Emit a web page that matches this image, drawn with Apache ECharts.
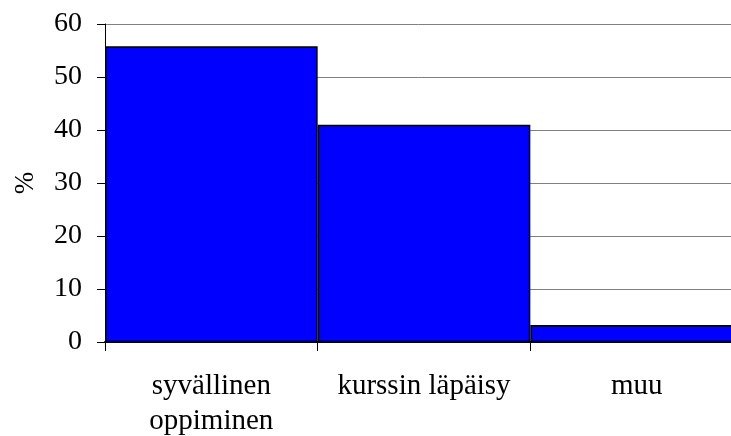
<!DOCTYPE html>
<html><head><meta charset="utf-8">
<script src="https://cdn.jsdelivr.net/npm/echarts@6/dist/echarts.min.js"></script>
<style>html,body{margin:0;padding:0;background:#fff}#c{width:731px;height:436px}</style>
</head><body><div id="c"></div>
<script>
const categories = ['syvällinen\noppiminen', 'kurssin läpäisy', 'muu'];
const values = [55.8, 41.0, 3.2];
const yTicks = { min: 0, max: 60, interval: 10 };

const chart = echarts.init(document.getElementById('c'), null, { renderer: 'canvas' });
chart.setOption({
  animation: false,
  backgroundColor: '#fff',
  grid: { left: 105, top: 24, width: 638, height: 318, containLabel: false, outerBoundsMode: 'none' },
  xAxis: {
    type: 'category', data: categories,
    axisLine: { lineStyle: { color: '#000', width: 2 } },
    axisTick: { show: true, length: 9, interval: 0, lineStyle: { color: '#000' } },
    axisLabel: { interval: 0, margin: 27, fontFamily: 'Liberation Serif', fontSize: 29, color: '#000', lineHeight: 35 },
    splitLine: { show: false }
  },
  yAxis: {
    type: 'value', min: yTicks.min, max: yTicks.max, interval: yTicks.interval,
    name: '%', nameLocation: 'middle', nameGap: 66, nameRotate: 90,
    nameTextStyle: { fontFamily: 'Liberation Serif', fontSize: 27, color: '#000' },
    axisLine: { show: true, lineStyle: { color: '#000', width: 1 } },
    axisTick: { show: true, length: 8, lineStyle: { color: '#000' } },
    axisLabel: { margin: 23, fontFamily: 'Liberation Serif', fontSize: 28, color: '#000' },
    splitLine: { show: true, lineStyle: { color: '#808080', width: 1 } }
  },
  series: [{
    type: 'bar', data: values, barWidth: '100%', barCategoryGap: '0%',
    itemStyle: { color: '#0000ff', borderColor: '#000', borderWidth: 1.5 }
  }]
});
</script></body></html>
